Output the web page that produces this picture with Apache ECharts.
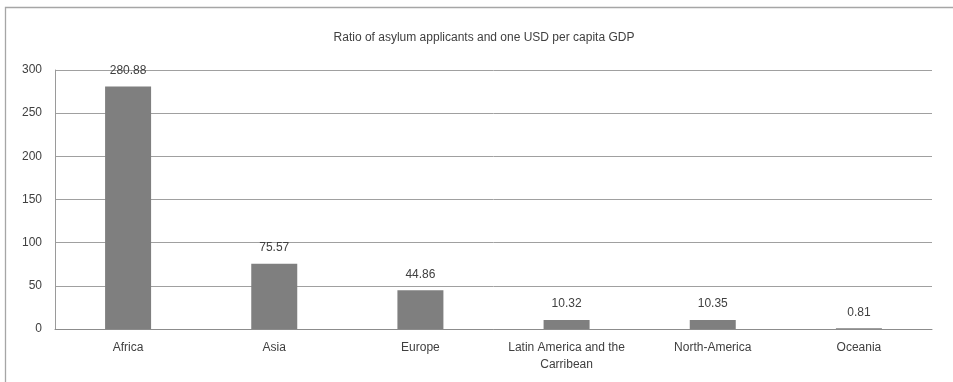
<!DOCTYPE html>
<html>
<head>
<meta charset="utf-8">
<script src="https://cdn.jsdelivr.net/npm/echarts@6/dist/echarts.min.js"></script>
<style>
html,body{margin:0;padding:0;background:#fff;}
#chart{width:953px;height:382px;}
</style>
</head>
<body>
<div id="chart"></div>
<script>
var categories = ['Africa', 'Asia', 'Europe', 'Latin America and the\nCarribean', 'North-America', 'Oceania'];
var values = [280.88, 75.57, 44.86, 10.32, 10.35, 0.81];
var yTicks = {min: 0, max: 300, interval: 50};
var titleText = 'Ratio of asylum applicants and one USD per capita GDP';

var FONT = 'Liberation Sans';
var TXT = '#404040';
var chart = echarts.init(document.getElementById('chart'));
chart.setOption({
  animation: false,
  backgroundColor: '#fff',
  textStyle: {fontFamily: FONT},
  title: {
    text: titleText,
    left: 479, top: 27, textAlign: 'center',
    textStyle: {fontFamily: FONT, fontSize: 12, fontWeight: 'normal', color: TXT}
  },
  graphic: [{
    type: 'rect', silent: true,
    shape: {x: 5.5, y: 7.5, width: 1100, height: 1100},
    style: {fill: 'none', stroke: '#a6a6a6', lineWidth: 1.3}
  }],
  grid: {left: 55, right: 21, top: 70, bottom: 53},
  xAxis: {
    type: 'category',
    data: categories,
    axisTick: {show: false},
    axisLine: {lineStyle: {color: '#8c8c8c', width: 1}},
    axisLabel: {fontFamily: FONT, fontSize: 12, color: TXT, margin: 10, lineHeight: 17, interval: 0}
  },
  yAxis: {
    type: 'value',
    min: yTicks.min, max: yTicks.max, interval: yTicks.interval,
    axisLine: {show: true, lineStyle: {color: '#9a9a9a', width: 1}},
    axisTick: {show: false},
    splitLine: {lineStyle: {color: '#a0a0a0', width: 1}},
    axisLabel: {fontFamily: FONT, fontSize: 12, color: TXT, margin: 13}
  },
  series: [{
    type: 'bar',
    data: values,
    barWidth: 46,
    itemStyle: {color: '#7f7f7f'},
    label: {
      show: true, position: 'top', distance: 10,
      fontFamily: FONT, fontSize: 12, color: TXT,
      formatter: function (p) { return p.value.toFixed(2); }
    }
  }]
});
</script>
</body>
</html>
